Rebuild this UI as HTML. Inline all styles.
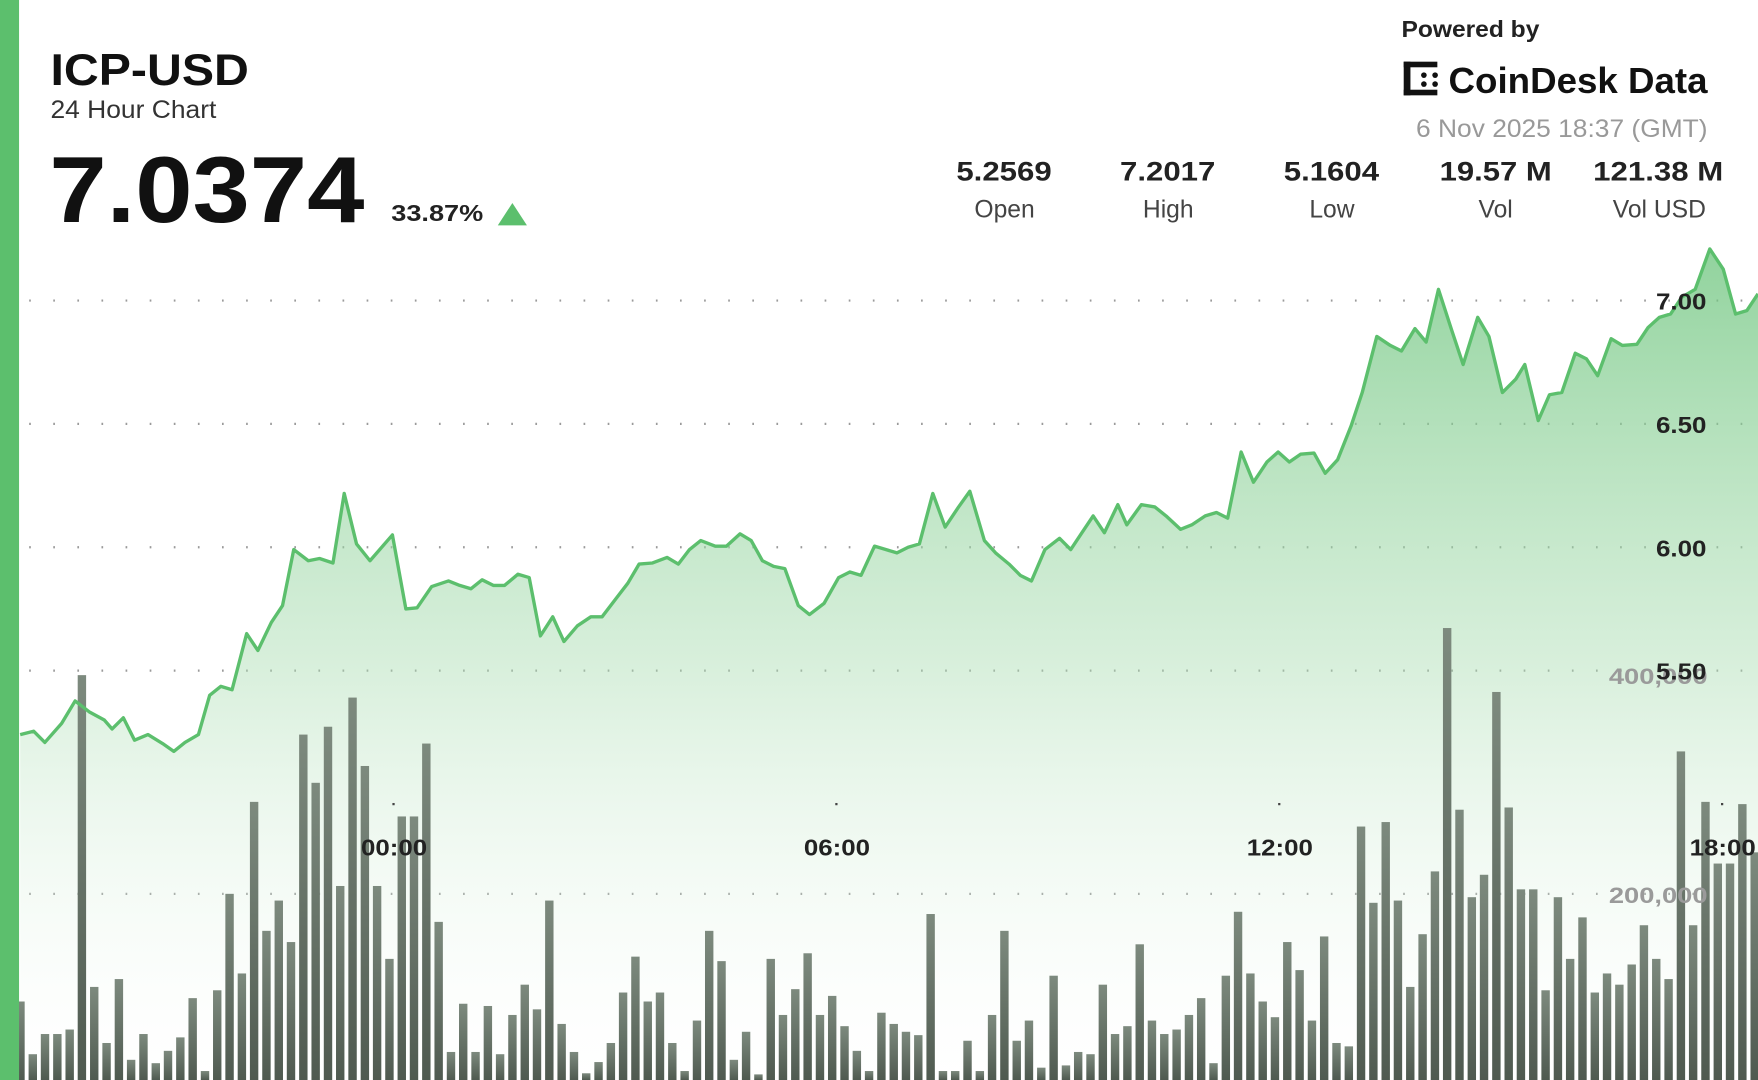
<!DOCTYPE html>
<html><head><meta charset="utf-8"><style>
html,body{margin:0;padding:0;background:#fff;}
svg{display:block;font-family:"Liberation Sans","DejaVu Sans",sans-serif;}
</style></head><body>
<svg id="s" width="1758" height="1080" viewBox="0 0 1568 963" preserveAspectRatio="none" xmlns="http://www.w3.org/2000/svg">
<defs>
<linearGradient id="ag" x1="0" y1="0" x2="0" y2="1">
<stop offset="0" stop-color="#6cc47c" stop-opacity="0.75"/>
<stop offset="0.5" stop-color="#a8dcb0" stop-opacity="0.45"/>
<stop offset="1" stop-color="#ffffff" stop-opacity="0.1"/>
</linearGradient>
<linearGradient id="bg" x1="0" y1="0" x2="0" y2="1">
<stop offset="0" stop-color="#7d8a7e"/>
<stop offset="1" stop-color="#4f5a50"/>
</linearGradient>
</defs>
<rect x="0" y="0" width="1568" height="963" fill="#fff"/>
<g id="grid" stroke="#9a9a9a" stroke-width="2" stroke-dasharray="1.5 20">
<line x1="26" y1="268" x2="1568" y2="268"/>
<line x1="26" y1="378" x2="1568" y2="378"/>
<line x1="26" y1="488" x2="1568" y2="488"/>
<line x1="26" y1="598" x2="1568" y2="598"/>
<line x1="26" y1="797" x2="1568" y2="797"/>
</g>
<path id="area" fill="url(#ag)"/>
<g id="bars" fill="url(#bg)"></g>
<path id="line" fill="none" stroke="#5cbf6d" stroke-width="3" stroke-linejoin="round"/>
<g fill="#9a9a9a" font-size="20" font-weight="bold">
<text x="1435" y="610" textLength="88" lengthAdjust="spacingAndGlyphs">400,000</text>
<text x="1435" y="805" textLength="88" lengthAdjust="spacingAndGlyphs">200,000</text>
</g>
<g fill="#222" font-size="21" font-weight="bold">
<text x="1477" y="276" textLength="45" lengthAdjust="spacingAndGlyphs">7.00</text>
<text x="1477" y="386" textLength="45" lengthAdjust="spacingAndGlyphs">6.50</text>
<text x="1477" y="496" textLength="45" lengthAdjust="spacingAndGlyphs">6.00</text>
<text x="1477" y="606" textLength="45" lengthAdjust="spacingAndGlyphs">5.50</text>
</g>
<g fill="#222" font-size="21" font-weight="bold">
<text x="322" y="763" textLength="59" lengthAdjust="spacingAndGlyphs">00:00</text>
<text x="717" y="763" textLength="59" lengthAdjust="spacingAndGlyphs">06:00</text>
<text x="1112" y="763" textLength="59" lengthAdjust="spacingAndGlyphs">12:00</text>
<text x="1507" y="763" textLength="59" lengthAdjust="spacingAndGlyphs">18:00</text>
</g>
<g fill="#444"><rect x="350" y="716" width="2" height="2"/><rect x="745" y="716" width="2" height="2"/><rect x="1140" y="716" width="2" height="2"/><rect x="1535" y="716" width="2" height="2"/></g>
<rect x="0" y="0" width="17" height="963" fill="#5cbf6d"/>
<text x="45" y="76" font-size="40" font-weight="bold" fill="#111" textLength="177" lengthAdjust="spacingAndGlyphs">ICP-USD</text>
<text x="45" y="105" font-size="22" fill="#333" textLength="148" lengthAdjust="spacingAndGlyphs">24 Hour Chart</text>
<text x="44" y="198" font-size="84" font-weight="bold" fill="#111" textLength="281" lengthAdjust="spacingAndGlyphs">7.0374</text>
<text x="349" y="197" font-size="21" font-weight="bold" fill="#222" textLength="82" lengthAdjust="spacingAndGlyphs">33.87%</text>
<polygon points="444,201 470,201 457,181" fill="#5cbf6d"/>
<text x="1250" y="33" font-size="21" font-weight="bold" fill="#222" textLength="123" lengthAdjust="spacingAndGlyphs">Powered by</text>
<g fill="#111"><rect x="1252" y="55" width="6" height="30"/><rect x="1252" y="55" width="30" height="5"/><rect x="1252" y="80" width="30" height="5"/><circle cx="1270" cy="67" r="2.5"/><circle cx="1270" cy="75" r="2.5"/><circle cx="1280" cy="67" r="2.5"/><circle cx="1280" cy="75" r="2.5"/></g>
<text x="1292" y="83" font-size="32" font-weight="bold" fill="#111" textLength="231" lengthAdjust="spacingAndGlyphs">CoinDesk Data</text>
<text x="1263" y="122" font-size="22" fill="#999" textLength="260" lengthAdjust="spacingAndGlyphs">6 Nov 2025 18:37 (GMT)</text>
<g font-size="24" font-weight="bold" fill="#222">
<text x="853" y="161" textLength="85" lengthAdjust="spacingAndGlyphs">5.2569</text><text x="999" y="161" textLength="85" lengthAdjust="spacingAndGlyphs">7.2017</text><text x="1145" y="161" textLength="85" lengthAdjust="spacingAndGlyphs">5.1604</text><text x="1284" y="161" textLength="100" lengthAdjust="spacingAndGlyphs">19.57 M</text><text x="1421" y="161" textLength="116" lengthAdjust="spacingAndGlyphs">121.38 M</text></g>
<g font-size="22" fill="#444" text-anchor="middle">
<text x="896" y="194">Open</text><text x="1042" y="194">High</text><text x="1188" y="194">Low</text><text x="1334" y="194">Vol</text><text x="1480" y="194">Vol USD</text></g>
</svg>
<script>
var p=[[18,655],[30,652],[40,662],[55,645],[67,625],[80,635],[93,642],[100,650],[110,640],[120,660],[132,655],[145,663],[155,670],[165,662],[177,655],[187,620],[197,612],[207,615],[220,565],[230,580],[242,555],[252,540],[262,490],[275,500],[285,498],[297,502],[307,440],[318,485],[330,500],[350,477],[362,543],[372,542],[385,523],[400,518],[410,522],[420,525],[430,517],[440,522],[450,522],[462,512],[472,515],[482,567],[493,550],[503,572],[515,558],[527,550],[537,550],[550,533],[560,520],[570,503],[582,502],[595,497],[605,503],[615,490],[625,482],[638,487],[648,487],[660,476],[670,482],[680,500],[690,505],[700,507],[712,540],[722,548],[735,538],[748,515],[758,510],[768,513],[780,487],[790,490],[800,493],[810,488],[820,485],[832,440],[843,470],[855,452],[865,438],[878,482],[888,493],[900,503],[910,513],[920,518],[932,490],[945,480],[955,490],[965,475],[975,460],[985,475],[997,450],[1005,468],[1018,450],[1030,452],[1040,460],[1053,472],[1063,468],[1075,460],[1085,457],[1095,462],[1107,403],[1118,430],[1130,412],[1140,403],[1150,412],[1160,405],[1172,404],[1182,422],[1193,410],[1205,380],[1215,350],[1228,300],[1240,308],[1250,313],[1262,293],[1272,305],[1283,258],[1295,295],[1305,325],[1318,283],[1328,300],[1340,350],[1352,338],[1360,325],[1372,375],[1382,352],[1393,350],[1405,315],[1415,320],[1425,335],[1437,302],[1447,308],[1460,307],[1470,292],[1480,283],[1490,280],[1500,265],[1512,258],[1525,222],[1537,240],[1548,280],[1558,277],[1568,262]];
var d="M"+p.map(function(a){return a[0]+","+a[1]}).join(" L");
document.getElementById("line").setAttribute("d",d);
document.getElementById("area").setAttribute("d",d+" L1568,963 L18,963 Z");
var b=[893,940,922,922,918,602,880,930,873,945,922,948,937,925,890,955,883,797,868,715,830,803,840,655,698,648,790,622,683,790,855,728,728,663,822,938,895,938,897,940,905,878,900,803,913,938,957,947,930,885,853,893,885,930,955,910,830,857,945,920,958,855,905,882,850,905,888,915,937,955,903,913,920,923,815,955,955,928,955,905,830,928,910,952,870,950,938,940,878,922,915,842,910,922,918,905,890,948,870,813,868,893,907,840,865,910,835,930,933,737,805,733,803,880,833,777,560,722,800,780,617,720,793,793,883,800,855,818,885,868,878,860,825,855,873,670,825,715,770,770,717,760];
var g=document.getElementById("bars"),h="";
for(var i=0;i<b.length;i++){var x=18+i*10.97;h+='<rect x="'+(x-3.5).toFixed(1)+'" y="'+b[i]+'" width="7.5" height="'+(963-b[i])+'"/>';}
g.innerHTML=h;
</script>
</body></html>
